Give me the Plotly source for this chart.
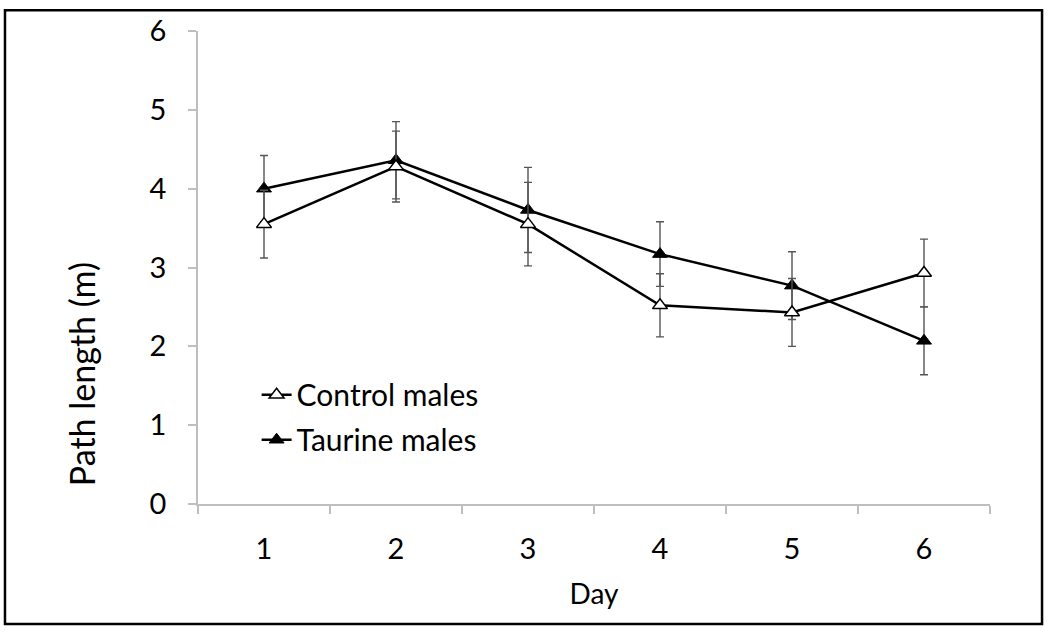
import plotly.graph_objects as go

days = ["1", "2", "3", "4", "5", "6"]
control = [3.55, 4.28, 3.55, 2.52, 2.43, 2.93]
control_err = [0.43, 0.45, 0.53, 0.40, 0.43, 0.43]
taurine = [4.00, 4.36, 3.73, 3.17, 2.77, 2.07]
taurine_err = [0.42, 0.49, 0.54, 0.41, 0.43, 0.43]
y_ticks = [0, 1, 2, 3, 4, 5, 6]

FONT = "Lato"
fig = go.Figure()
fig.add_trace(go.Scatter(
    x=days, y=taurine, name="Taurine males", mode="lines+markers",
    line=dict(color="black", width=2.5),
    marker=dict(symbol="triangle-up", size=13, color="black", line=dict(color="black", width=1)),
    error_y=dict(type="data", array=taurine_err, visible=True, color="#555555", thickness=1.4, width=4),
    legendgroup="t", legendrank=2,
))
fig.add_trace(go.Scatter(
    x=days, y=control, name="Control males", mode="lines+markers",
    line=dict(color="black", width=2.5),
    marker=dict(symbol="triangle-up", size=13, color="white", line=dict(color="black", width=1.5)),
    error_y=dict(type="data", array=control_err, visible=True, color="#555555", thickness=1.4, width=4),
    legendgroup="c", legendrank=1,
))

fig.update_layout(
    width=1050, height=634,
    margin=dict(l=198, r=60, t=27, b=130),
    paper_bgcolor="white", plot_bgcolor="white",
    font=dict(family=FONT, size=28, color="black"),
    showlegend=True,
    legend=dict(x=0.074, y=0.286, xanchor="left", yanchor="top",
                bgcolor="rgba(0,0,0,0)", font=dict(size=30), tracegroupgap=3,
                traceorder="grouped"),
    xaxis=dict(type="category", categoryorder="array", categoryarray=days,
               range=[-0.5, 5.5], showline=True, linecolor="#bfbfbf", linewidth=1.5,
               ticks="outside", tickson="boundaries", ticklen=8, tickcolor="#bfbfbf",
               tickwidth=1.5, showgrid=False, zeroline=False,
               tickfont=dict(size=29),
               title=dict(text="Day", standoff=21, font=dict(size=28)), ticklabelstandoff=18),
    yaxis=dict(range=[0, 6], tickvals=y_ticks, showline=True, linecolor="#bfbfbf",
               linewidth=1.5, ticks="outside", ticklen=8, tickcolor="#bfbfbf",
               tickwidth=1.5, showgrid=False, zeroline=False,
               tickfont=dict(size=29), ticklabelstandoff=16),
    annotations=[dict(text="Path length (m)", textangle=-90, xref="paper", yref="paper",
                      x=-0.1477, y=0.2746, xanchor="center", yanchor="middle",
                      showarrow=False, font=dict(size=34))],
    shapes=[dict(type="rect", xref="paper", yref="paper",
                 x0=-0.2437, x1=1.0657, y0=-0.2537, y1=1.044,
                 line=dict(color="black", width=2.5))],
)
fig.write_html("out.html", config={"displayModeBar": False},
               post_script="document.body.style.margin='0';")
